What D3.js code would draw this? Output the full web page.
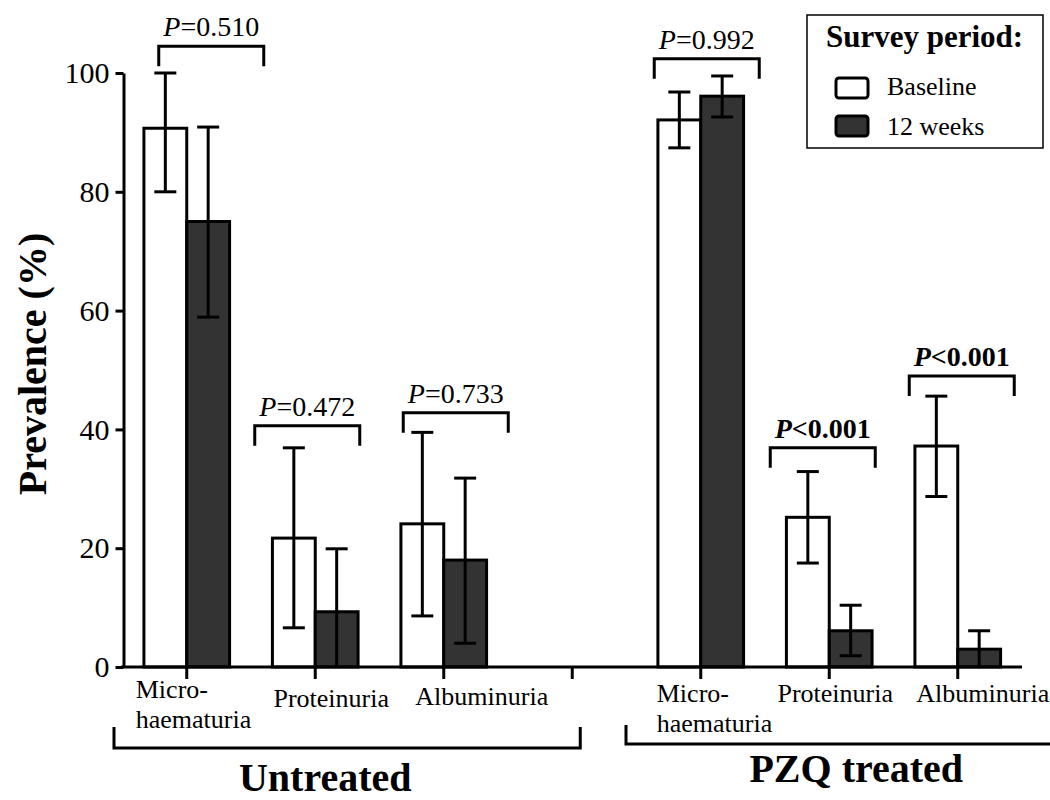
<!DOCTYPE html>
<html>
<head>
<meta charset="utf-8">
<script src="https://cdnjs.cloudflare.com/ajax/libs/d3/7.8.5/d3.min.js"></script>
<style>
  body { margin: 0; background: #fff; }
  svg text { font-family: "Liberation Serif", "Times New Roman", serif; fill: #000; }
</style>
</head>
<body>
<div id="chart"></div>
<script>
// slots along the x axis (one blank slot between the two groups)
const slots = ["u_micro", "u_prot", "u_alb", "gap", "t_micro", "t_prot", "t_alb"];
const slotLabels = [["Micro-", "haematuria"], ["Proteinuria"], ["Albuminuria"], [],
                    ["Micro-", "haematuria"], ["Proteinuria"], ["Albuminuria"]];
const groups = ["Untreated", "PZQ treated"];
const periods = ["Baseline", "12 weeks"];

// prevalence (%) and 95% CI
const baseline   = [90.7, 21.7, 24.1, null, 92.1, 25.2, 37.2];
const baselineLo = [80.0,  6.6,  8.6, null, 87.4, 17.5, 28.7];
const baselineHi = [100,  36.9, 39.5, null, 96.8, 32.9, 45.6];
const week12     = [75.0,  9.3, 18.0, null, 96.1,  6.1,  3.0];
const week12Lo   = [58.9,  0.0,  4.0, null, 92.6,  1.9,  0.0];
const week12Hi   = [90.9, 19.9, 31.8, null, 99.5, 10.4,  6.1];

// P values of the comparisons
const pSign  = ["=", "=", "=", null, "=", "<", "<"];
const pValue = ["0.510", "0.472", "0.733", null, "0.992", "0.001", "0.001"];
const pSignificant = [false, false, false, null, false, true, true];
const bracketLevel = [104.5, 40.6, 42.8, null, 102.4, 36.9, 49.0];

const yTicks = [0, 20, 40, 60, 80, 100];

const w = 1050, h = 800;
const svg = d3.select("#chart").append("svg")
    .attr("width", w)
    .attr("height", h);

const x = d3.scaleBand().domain(slots).range([122.5, 1022]);
const xs = d3.scaleBand().domain(periods).range([0, x.bandwidth()]).paddingOuter(0.5);
const y = d3.scaleLinear().domain([0, 100]).range([667, 73]);
const fills = { "Baseline": "#ffffff", "12 weeks": "#333333" };

const series = {
  "Baseline": { v: baseline, lo: baselineLo, hi: baselineHi },
  "12 weeks": { v: week12, lo: week12Lo, hi: week12Hi }
};

const cx = s => x(s) + x.bandwidth() / 2;

// bars
const rows = [];
slots.forEach((s, i) => {
  periods.forEach(p => {
    if (series[p].v[i] != null) rows.push({ slot: s, period: p, v: series[p].v[i], lo: series[p].lo[i], hi: series[p].hi[i] });
  });
});

svg.append("g").selectAll("rect")
   .data(rows)
   .enter()
   .append("rect")
   .attr("x", d => x(d.slot) + xs(d.period))
   .attr("y", d => y(d.v))
   .attr("width", xs.bandwidth())
   .attr("height", d => y(0) - y(d.v))
   .style("fill", d => fills[d.period])
   .style("stroke", "#000")
   .style("stroke-width", 3);

// error bars
const eb = svg.append("g").style("stroke", "#000").style("stroke-width", 3);
rows.forEach(d => {
  const ex = x(d.slot) + xs(d.period) + xs.bandwidth() / 2;
  eb.append("line").attr("x1", ex).attr("x2", ex).attr("y1", y(d.lo)).attr("y2", y(d.hi));
  eb.append("line").attr("x1", ex - 11).attr("x2", ex + 11).attr("y1", y(d.hi)).attr("y2", y(d.hi));
  if (d.lo > 0) eb.append("line").attr("x1", ex - 11).attr("x2", ex + 11).attr("y1", y(d.lo)).attr("y2", y(d.lo));
});

// y axis
const yAxis = svg.append("g")
   .attr("transform", "translate(123.5,0)")
   .call(d3.axisLeft(y).tickValues(yTicks).tickSize(8).tickSizeOuter(0).tickPadding(6));
yAxis.select(".domain").style("stroke-width", 3);
yAxis.selectAll(".tick line").style("stroke-width", 3);
yAxis.selectAll(".tick text")
   .style("font-family", "Liberation Serif, serif")
   .style("font-size", "30px");

// x axis
const xAxis = svg.append("g")
   .attr("transform", `translate(0,${y(0)})`)
   .call(d3.axisBottom(x).tickSize(12).tickSizeOuter(0).tickFormat(""));
xAxis.select(".domain").style("stroke-width", 3).attr("d", `M121,0H1022`);
xAxis.selectAll(".tick line").style("stroke-width", 3);

// category labels (placement as in the original figure)
const labelDx = [-51, 16, 38, 0, -44, 6, 25];
const labelY = [698, 707, 705, 0, 702, 702, 702];
slots.forEach((s, i) => {
  const lines = slotLabels[i];
  if (!lines.length) return;
  const multi = lines.length > 1;
  const t = svg.append("text")
     .attr("x", cx(s) + labelDx[i])
     .attr("y", labelY[i])
     .attr("text-anchor", multi ? "start" : "middle")
     .style("font-size", "26px");
  lines.forEach((ln, j) => {
    t.append("tspan").attr("x", cx(s) + labelDx[i]).attr("dy", j ? 30 : 0).text(ln);
  });
});

// group brackets and labels
const gb = svg.append("g").style("stroke", "#000").style("stroke-width", 3).style("fill", "none");
gb.append("path").attr("d", `M${x("u_micro") - 8.5},727V748H${cx("gap") + 8}V727`);
gb.append("path").attr("d", `M${x("t_micro") - 10.5},725V744H1060`);

svg.append("text")
   .attr("x", cx("u_prot") + 10)
   .attr("y", 791)
   .attr("text-anchor", "middle")
   .style("font-size", "40px")
   .style("font-weight", "bold")
   .text(groups[0]);
svg.append("text")
   .attr("x", cx("t_prot") + 27)
   .attr("y", 782)
   .attr("text-anchor", "middle")
   .style("font-size", "40px")
   .style("font-weight", "bold")
   .text(groups[1]);

// y axis title
svg.append("text")
   .attr("transform", "translate(46,364) rotate(-90)")
   .attr("text-anchor", "middle")
   .style("font-size", "40px")
   .style("font-weight", "bold")
   .text("Prevalence (%)");

// P-value brackets
const bracketShift = [24.5, -8, 12, 0, 6, -6.5, 4];
const pb = svg.append("g").style("stroke", "#000").style("stroke-width", 3).style("fill", "none");
slots.forEach((s, i) => {
  if (pValue[i] == null) return;
  const mid = cx(s) + bracketShift[i];
  const top = y(bracketLevel[i]);
  pb.append("path").attr("d", `M${mid - 52.5},${top + 20}V${top}H${mid + 52.5}V${top + 20}`);
  const t = svg.append("text")
     .attr("x", mid)
     .attr("y", top - 10)
     .attr("text-anchor", "middle")
     .style("font-size", "28px")
     .style("font-weight", pSignificant[i] ? "bold" : "normal");
  t.append("tspan").style("font-style", "italic").text("P");
  t.append("tspan").text(pSign[i] + pValue[i]);
});

// legend
const lg = svg.append("g");
lg.append("rect")
  .attr("x", 807).attr("y", 15).attr("width", 236).attr("height", 133)
  .style("fill", "#fff").style("stroke", "#000").style("stroke-width", 1.5);
lg.append("text")
  .attr("x", 826).attr("y", 47)
  .style("font-size", "31px").style("font-weight", "bold")
  .text("Survey period:");
periods.forEach((p, i) => {
  lg.append("rect")
    .attr("x", 836).attr("y", 78 + i * 38).attr("width", 32).attr("height", 20).attr("rx", 3)
    .style("fill", fills[p]).style("stroke", "#000").style("stroke-width", 3);
  lg.append("text")
    .attr("x", 887).attr("y", 95 + i * 40)
    .style("font-size", "26px")
    .text(p);
});
</script>
</body>
</html>
